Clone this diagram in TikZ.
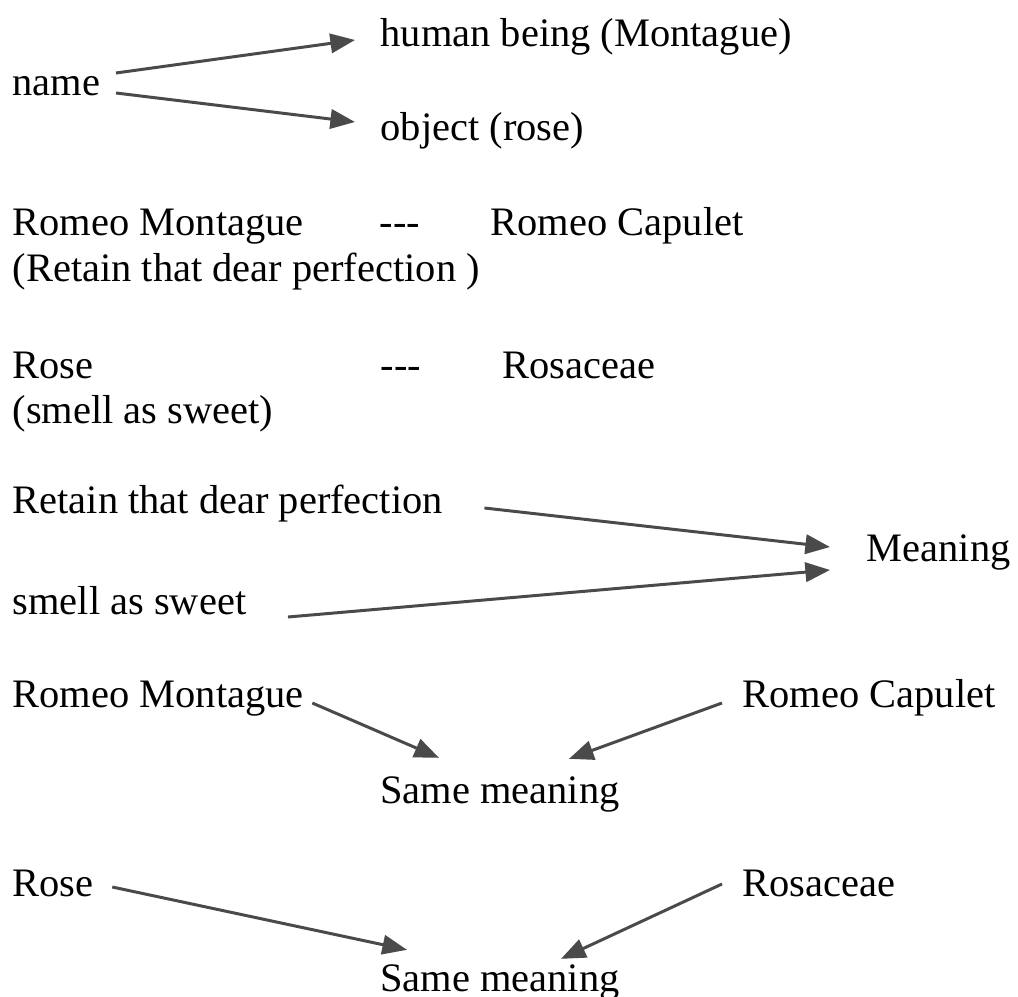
\documentclass[tikz,border=0pt]{standalone}
\usepackage{fontspec}
\setmainfont{Liberation Serif}
\usepackage{tikz}
\usetikzlibrary{arrows.meta}

\definecolor{arrgray}{HTML}{4A4A4A}
\tikzset{
	txt/.style={inner sep=0pt, anchor=west, text height=8pt, text depth=2.5pt, font=\fontsize{11.5}{14}\selectfont},
	ctxt/.style={txt, anchor=center},
	arr/.style={draw=arrgray, line width=0.85pt, -{Triangle[length=7pt,width=5.5pt]}}
}

\begin{document}
\begin{tikzpicture}[x=0.01cm, y=0.01cm]
		\useasboundingbox (0,0) rectangle (1018,-997);
		% name
		\node[txt] (name) at (12,-86) {name};
		\node[txt] (human) at (380,-37) {human being (Montague)};
		\node[txt] (object) at (380,-131) {object (rose)};
		\draw[arr] ([shift={(15,13)}]name.east) -- ([shift={(-25,-3)}]human.west);
		\draw[arr] ([shift={(15,-7)}]name.east) -- ([shift={(-25,9)}]object.west);
		% pairs
		\node[txt] (montA) at (12,-226) {Romeo Montague};
		\node[txt] (dashA) at (379,-226) {-{}-{}-};
		\node[txt] (capA) at (490,-226) {Romeo Capulet};
		\node[txt] (retainA) at (12,-272) {(Retain that dear perfection )};
		\node[txt] (roseA) at (12,-369) {Rose};
		\node[txt] (dashB) at (380,-369) {-{}-{}-};
		\node[txt] (rosacA) at (502,-369) {Rosaceae};
		\node[txt] (smellA) at (12,-414) {(smell as sweet)};
		% meaning
		\node[txt] (retainB) at (12,-504) {Retain that dear perfection};
		\node[txt] (smellB) at (12,-605) {smell as sweet};
		\node[txt] (meaning) at (866,-552) {Meaning};
		\draw[arr] ([shift={(41,-4)}]retainB.east) -- ([shift={(-36,5)}]meaning.west);
		\draw[arr] ([shift={(41,-12)}]smellB.east) -- ([shift={(-36,-18)}]meaning.west);
		% same meaning 1
		\node[txt] (montB) at (12,-698) {Romeo Montague};
		\node[txt] (capB) at (742,-698) {Romeo Capulet};
		\node[ctxt] (sameA) at (500,-794) {Same meaning};
		\draw[arr] ([shift={(8,-5)}]montB.east) -- ([shift={(-61,17)}]sameA.north);
		\draw[arr] ([shift={(-20,-5)}]capB.west) -- ([shift={(69,16)}]sameA.north);
		% same meaning 2
		\node[txt] (roseB) at (12,-887) {Rose};
		\node[txt] (rosacB) at (742,-887) {Rosaceae};
		\node[ctxt] (sameB) at (500,-982) {Same meaning};
		\draw[arr] ([shift={(18,0)}]roseB.east) -- ([shift={(-93,13)}]sameB.north);
		\draw[arr] ([shift={(-20,3)}]rosacB.west) -- ([shift={(61,4)}]sameB.north);
\end{tikzpicture}
\end{document}
